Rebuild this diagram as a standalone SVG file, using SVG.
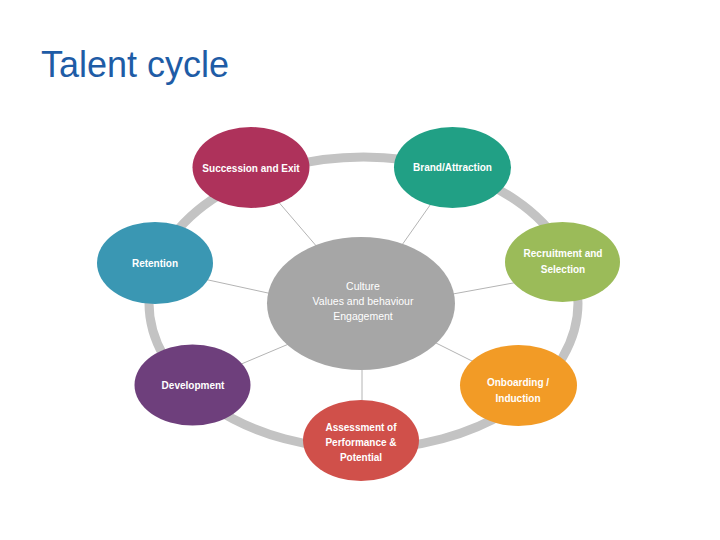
<svg xmlns="http://www.w3.org/2000/svg" width="720" height="540" viewBox="0 0 720 540">
<style>
.t{font-family:"Liberation Sans",Arial,sans-serif;font-weight:bold;font-size:10px;fill:#fff;text-anchor:middle}
.c{font-family:"Liberation Sans",Arial,sans-serif;font-size:10.5px;fill:#fff;text-anchor:middle}
.ln{stroke:#b4b4b4;stroke-width:1;fill:none}
</style>
<rect width="720" height="540" fill="#fff"/>
<text x="41" y="77" font-family="'Liberation Sans',Arial,sans-serif" font-size="36" fill="#1E5CA6">Talent cycle</text>
<ellipse id="ring" cx="363.5" cy="303" rx="214.5" ry="146" fill="none" stroke="#c3c3c3" stroke-width="9"/>
<g id="connectors">
<line class="ln" x1="270" y1="192" x2="330" y2="262"/>
<line class="ln" x1="447" y1="181" x2="390" y2="262"/>
<line class="ln" x1="190" y1="276" x2="300" y2="300"/>
<line class="ln" x1="535" y1="279" x2="420" y2="300"/>
<line class="ln" x1="220" y1="373" x2="310" y2="335"/>
<line class="ln" x1="500" y1="375" x2="410" y2="330"/>
<line class="ln" x1="362" y1="340" x2="362" y2="420"/>
</g>
<g id="center">
<ellipse cx="361" cy="303.5" rx="94" ry="66.5" fill="#a6a6a6"/>
<text class="c" x="363" y="290">Culture</text>
<text class="c" x="363" y="305">Values and behaviour</text>
<text class="c" x="363" y="320">Engagement</text>
</g>
<g id="succession">
<ellipse cx="251" cy="167.5" rx="58.5" ry="40.5" fill="#ae325b"/>
<text class="t" x="251" y="171.5">Succession and Exit</text>
</g>
<g id="brand">
<ellipse cx="452.5" cy="167.5" rx="58.5" ry="40.5" fill="#21a085"/>
<text class="t" x="452.5" y="171">Brand/Attraction</text>
</g>
<g id="retention">
<ellipse cx="155" cy="263" rx="58" ry="41" fill="#3a97b3"/>
<text class="t" x="155" y="267">Retention</text>
</g>
<g id="recruitment">
<ellipse cx="562.5" cy="262" rx="57.5" ry="40" fill="#9bbb59"/>
<text class="t" x="563" y="257">Recruitment and</text>
<text class="t" x="563" y="273">Selection</text>
</g>
<g id="development">
<ellipse cx="192.5" cy="385" rx="58" ry="40.5" fill="#6e3f7c"/>
<text class="t" x="193" y="389">Development</text>
</g>
<g id="onboarding">
<ellipse cx="518.5" cy="385.5" rx="58.5" ry="40.5" fill="#f29b26"/>
<text class="t" x="518" y="386">Onboarding /</text>
<text class="t" x="518" y="402">Induction</text>
</g>
<g id="assessment">
<ellipse cx="361" cy="440.5" rx="58" ry="40.5" fill="#d0504a"/>
<text class="t" x="361" y="431">Assessment of</text>
<text class="t" x="361" y="446">Performance &amp;</text>
<text class="t" x="361" y="461">Potential</text>
</g>
</svg>
